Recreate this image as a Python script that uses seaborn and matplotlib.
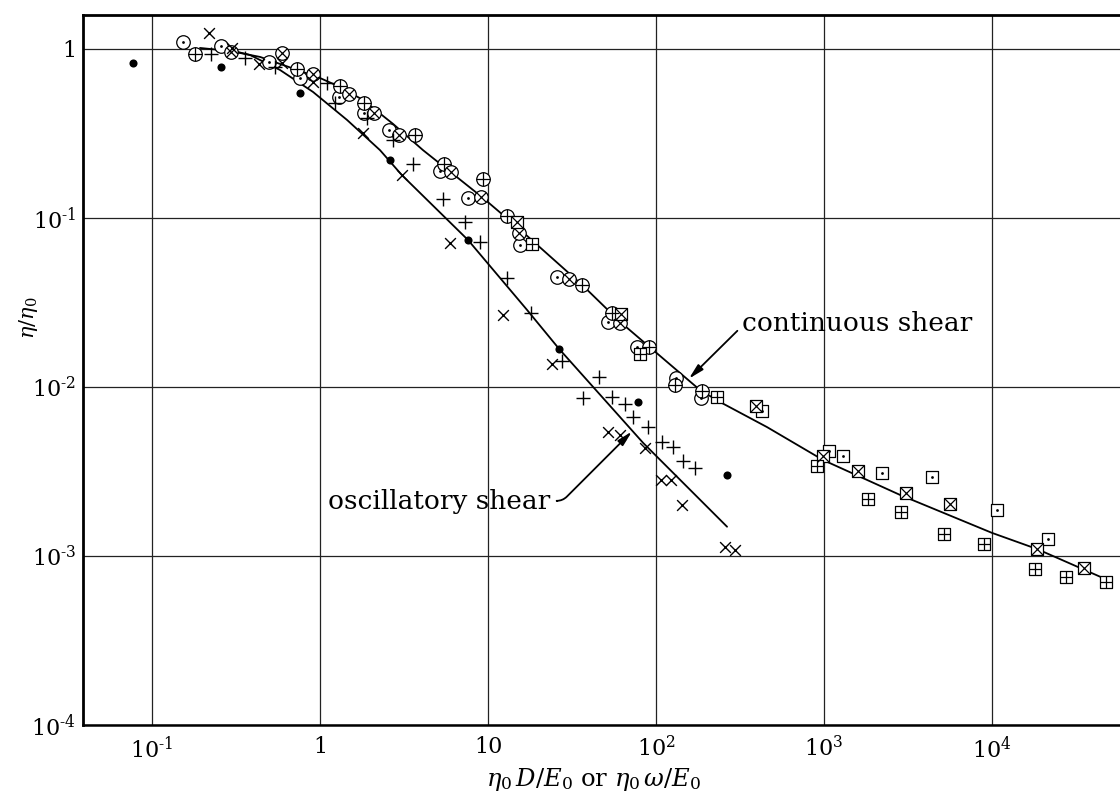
import matplotlib
matplotlib.use("Agg")
import matplotlib.pyplot as plt
import seaborn as sns
import numpy as np

# --- measured points, grouped by symbol -------------------------------------
circle_dot_x = [0.153, 0.258, 0.50, 0.76, 1.30, 1.83, 2.57, 5.18, 7.6, 15.5, 25.7, 51.8, 77, 131.5, 185]
circle_dot_y = [1.10, 1.04, 0.84, 0.67, 0.52, 0.42, 0.33, 0.19, 0.131, 0.069, 0.045, 0.0243, 0.0172, 0.0113, 0.0086]

circle_plus_x = [0.18, 0.73, 1.32, 1.83, 3.68, 5.47, 9.34, 13.0, 36.3, 54.7, 90.9, 130, 188]
circle_plus_y = [0.93, 0.76, 0.60, 0.48, 0.31, 0.21, 0.17, 0.103, 0.040, 0.0273, 0.0172, 0.0103, 0.0095]

circle_times_x = [0.295, 0.594, 0.91, 1.49, 2.10, 2.95, 6.0, 9.1, 15.3, 30.3, 61]
circle_times_y = [0.96, 0.95, 0.71, 0.54, 0.42, 0.31, 0.187, 0.133, 0.081, 0.0435, 0.0238]

plus_x = [0.224, 0.358, 0.54, 1.10, 1.23, 1.9, 2.72, 3.6, 5.4, 7.3, 8.96, 13.0, 18.0, 27.6,
          45.8, 36.7, 54.7, 65.3, 73, 89.6, 108.6, 126, 145, 171]
plus_y = [0.93, 0.88, 0.78, 0.63, 0.48, 0.39, 0.29, 0.21, 0.13, 0.095, 0.072, 0.044, 0.0273, 0.0143,
          0.0115, 0.0086, 0.0087, 0.0079, 0.0066, 0.0058, 0.0047, 0.0044, 0.00365, 0.0033]

times_x = [0.219, 0.30, 0.433, 0.59, 0.91, 1.80, 3.08, 5.95, 12.3, 24.0, 51.8, 61, 86, 107, 123, 143, 258, 295]
times_y = [1.24, 1.01, 0.81, 0.83, 0.64, 0.32, 0.18, 0.071, 0.0267, 0.0137, 0.0054, 0.0052, 0.00435,
           0.0028, 0.0028, 0.0020, 0.00113, 0.00109]

dot_x = [0.077, 0.258, 0.76, 2.6, 7.6, 26.5, 78.1, 265]
dot_y = [0.83, 0.78, 0.55, 0.22, 0.074, 0.0168, 0.0081, 0.0030]

square_dot_x = [428, 1071, 1297, 2213, 4397, 10700, 21500]
square_dot_y = [0.0072, 0.0042, 0.0039, 0.0031, 0.00293, 0.00187, 0.00126]

square_times_x = [14.9, 61.9, 394, 986, 1593, 3076, 5623, 18530, 35300]
square_times_y = [0.095, 0.0271, 0.0077, 0.0039, 0.0032, 0.00236, 0.00203, 0.0011, 0.00085]

square_plus_x = [18.3, 80.3, 231, 908, 1828, 2870, 5176, 8960, 18000, 27600, 47700]
square_plus_y = [0.070, 0.0157, 0.0087, 0.0034, 0.00217, 0.00182, 0.00135, 0.00118, 0.00084, 0.00075, 0.0007]

# --- drawn curves --------------------------------------------------------------
continuous_x = [0.193, 0.291, 0.440, 0.730, 1.0, 1.315, 1.803, 2.723, 4.102, 9.20, 14.89, 36.3,
                61.1, 182.8, 240.4, 458, 986, 2831, 10000, 18530, 45800]
continuous_y = [1.014, 0.973, 0.897, 0.752, 0.673, 0.596, 0.499, 0.360, 0.252, 0.133, 0.0885, 0.0402,
                0.0243, 0.00959, 0.00815, 0.00579, 0.00370, 0.00230, 0.00137, 0.00110, 0.000741]

oscillatory_x = [0.291, 0.383, 0.578, 0.908, 1.449, 2.275, 3.076, 7.60, 17.06, 26.5, 83.8, 264.8]
oscillatory_y = [0.986, 0.921, 0.751, 0.557, 0.380, 0.252, 0.179, 0.0741, 0.0286, 0.0168, 0.00467, 0.00149]

x_ticks = [0.1, 1, 10, 100, 1000, 10000]
x_ticklabels = [r"$10^{\text{-}1}$", "1", "10", r"$10^{2}$", r"$10^{3}$", r"$10^{4}$"]
y_ticks = [1, 0.1, 0.01, 0.001, 0.0001]
y_ticklabels = ["1", r"$10^{\text{-}1}$", r"$10^{\text{-}2}$", r"$10^{\text{-}3}$", r"$10^{\text{-}4}$"]

# --- style ---------------------------------------------------------------------
sns.set_style("white")
plt.rcParams["font.family"] = ["DejaVu Serif"]
plt.rcParams["mathtext.fontset"] = "dejavuserif"

fig = plt.figure(figsize=(11.2, 7.94), dpi=100)
ax = fig.add_axes([83 / 1120, 69 / 794, 1 - 83 / 1120, (725 - 15) / 794])
ax.set_xscale("log")
ax.set_yscale("log")
ax.set_xlim(10 ** -1.411, 10 ** 4.762)
ax.set_ylim(1e-4, 10 ** 0.201)

# curves
sns.lineplot(x=continuous_x, y=continuous_y, color="black", linewidth=1.3,
             sort=False, estimator=None, ax=ax, zorder=2)
sns.lineplot(x=oscillatory_x, y=oscillatory_y, color="black", linewidth=1.3,
             sort=False, estimator=None, ax=ax, zorder=2)

S_CIRC = 95
S_SQ = 70
LW = 0.9


def ring(xs, ys, marker, size):
    sns.scatterplot(x=xs, y=ys, marker=marker, s=size, color="white",
                    edgecolor="black", linewidth=LW, ax=ax, zorder=3)


def inner(xs, ys, marker, size, lw=LW):
    if marker == ".":
        sns.scatterplot(x=xs, y=ys, marker="o", s=size, color="black",
                        linewidth=0, ax=ax, zorder=4)
    else:
        sns.scatterplot(x=xs, y=ys, marker=marker, s=size, color="black",
                        linewidth=lw, ax=ax, zorder=4)


# circle symbols
ring(circle_dot_x, circle_dot_y, "o", S_CIRC)
inner(circle_dot_x, circle_dot_y, ".", 4)
ring(circle_plus_x, circle_plus_y, "o", S_CIRC)
inner(circle_plus_x, circle_plus_y, "+", S_CIRC)
ring(circle_times_x, circle_times_y, "o", S_CIRC)
inner(circle_times_x, circle_times_y, "x", S_CIRC * 0.5)

# square symbols
ring(square_dot_x, square_dot_y, "s", S_SQ)
inner(square_dot_x, square_dot_y, ".", 4)
ring(square_times_x, square_times_y, "s", S_SQ)
inner(square_times_x, square_times_y, "x", S_SQ)
ring(square_plus_x, square_plus_y, "s", S_SQ)
inner(square_plus_x, square_plus_y, "+", S_SQ)

# bare symbols
inner(plus_x, plus_y, "+", 110, lw=1.0)
inner(times_x, times_y, "x", 60, lw=1.0)
inner(dot_x, dot_y, ".", 34)

# grid, spines, ticks
ax.grid(True, which="major", color="#222222", linewidth=0.9)
ax.grid(False, which="minor")
ax.set_axisbelow(True)
ax.set_xticks(x_ticks)
ax.set_xticklabels(x_ticklabels)
ax.set_yticks(y_ticks)
ax.set_yticklabels(y_ticklabels)
ax.minorticks_off()
ax.tick_params(axis="both", which="both", length=0, labelsize=16, colors="black")
ax.tick_params(axis="x", pad=8)
ax.tick_params(axis="y", pad=5)
for side in ("left", "bottom", "top"):
    ax.spines[side].set_visible(True)
    ax.spines[side].set_color("black")
ax.spines["left"].set_linewidth(2.0)
ax.spines["top"].set_linewidth(2.0)
ax.spines["bottom"].set_linewidth(1.8)
ax.spines["right"].set_visible(False)

ax.set_xlabel(r"$\eta_0\,D/E_0$ or $\eta_0\,\omega/E_0$", fontsize=17.5, color="black")
ax.xaxis.set_label_coords(0.492, -0.058)
ax.set_ylabel(r"$\eta/\eta_0$", fontsize=15, color="black")
ax.yaxis.set_label_coords(-0.041, 0.573)

# annotations
ax.text(325, 0.0239, "continuous shear", fontsize=19, ha="left", va="center", color="black")
ax.annotate("", xy=(157, 0.0112), xytext=(305, 0.0215),
            arrowprops=dict(arrowstyle="-|>,head_length=0.9,head_width=0.22",
                            color="black", lw=1.3, shrinkA=0, shrinkB=0))

ax.text(23.4, 0.00209, "oscillatory shear", fontsize=19, ha="right", va="center", color="black")
ax.annotate("", xy=(71.9, 0.00545), xytext=(25.8, 0.00212),
            arrowprops=dict(arrowstyle="-|>,head_length=0.9,head_width=0.22",
                            color="black", lw=1.3, shrinkA=0, shrinkB=0,
                            connectionstyle="angle,angleA=0,angleB=45,rad=6"))

fig.savefig("out.png", dpi=100)
